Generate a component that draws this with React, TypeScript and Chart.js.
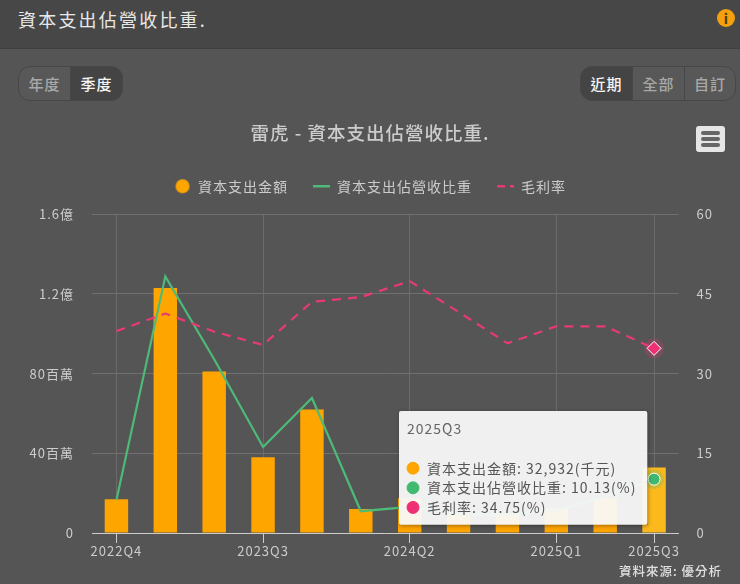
import React, { useEffect, useRef } from "react";
import { Chart, registerables, Tooltip } from "chart.js";

Chart.register(...registerables);

const FONT = '"Noto Sans CJK TC", "Noto Sans", sans-serif';

const categories = ["2022Q4", "2023Q1", "2023Q2", "2023Q3", "2023Q4", "2024Q1", "2024Q2", "2024Q3", "2024Q4", "2025Q1", "2025Q2", "2025Q3"];
const shownTickIndexes = [0, 3, 6, 9, 11];
const capexThousand = [17000, 123000, 81000, 38000, 62000, 12000, 17500, 10000, 10000, 12500, 17500, 32932];
const capexRatio = [6.2, 48.3, 32.7, 16.2, 25.4, 4.1, 4.9, 3.5, 3.5, 4.3, 6.8, 10.13];
const grossMargin = [38, 41.3, 37.9, 35.4, 43.5, 44.4, 47.4, 41.6, 35.7, 38.9, 38.9, 34.75];
const leftTickValues = [0, 40000, 80000, 120000, 160000];
const leftTickLabels = ["0", "40百萬", "80百萬", "1.2億", "1.6億"];
const seriesNames = ["資本支出金額", "資本支出佔營收比重", "毛利率"];
const seriesUnits = ["(千元)", "(%)", "(%)"];

const ORANGE = "#ffa500";
const GREEN = "#4dba78";
const PINK = "#e83a72";

(Tooltip.positioners as any).anchored = function (this: any) {
  const area = this.chart.chartArea;
  return { x: area.right - 277.5, y: area.bottom - 122, xAlign: "left", yAlign: "top" };
};

const spacingPlugin = {
  id: "spacing",
  beforeInit(chart: any) {
    const legend = chart.legend;
    const fit = legend.fit;
    legend.fit = function () {
      fit.call(legend);
      legend.height += 11;
    };
  },
  beforeUpdate(chart: any) {
    chart.ctx.letterSpacing = "1px";
  },
  beforeDraw(chart: any) {
    chart.ctx.letterSpacing = "1px";
  },
};

const haloPlugin = {
  id: "halo",
  beforeDatasetDraw(chart: any, args: any) {
    if (args.index === 0) return;
    const pts = chart.getDatasetMeta(args.index).data;
    const p = pts[pts.length - 1];
    const ctx = chart.ctx;
    ctx.save();
    ctx.beginPath();
    ctx.arc(p.x, p.y, 10, 0, Math.PI * 2);
    ctx.fillStyle = args.index === 1 ? "rgba(77,186,120,0.25)" : "rgba(232,58,114,0.25)";
    ctx.fill();
    ctx.restore();
  },
};

const tooltipShadowPlugin = {
  id: "tooltipShadow",
  beforeTooltipDraw(chart: any, args: any) {
    const t = args.tooltip;
    const ctx = chart.ctx;
    ctx.save();
    ctx.beginPath();
    ctx.rect(0, 0, chart.width, chart.height);
    ctx.rect(t.x, t.y, t.width, t.height);
    ctx.clip("evenodd");
    ctx.shadowColor = "rgba(0,0,0,0.35)";
    ctx.shadowBlur = 4;
    ctx.shadowOffsetX = 1;
    ctx.shadowOffsetY = 1;
    ctx.fillStyle = "#000";
    ctx.fillRect(t.x, t.y, t.width, t.height);
    ctx.restore();
  },
};

function circleIcon(color: string) {
  const c = document.createElement("canvas");
  c.width = 16;
  c.height = 16;
  const x = c.getContext("2d")!;
  x.fillStyle = color;
  x.beginPath();
  x.arc(8, 8, 7, 0, Math.PI * 2);
  x.fill();
  return c;
}

function ChartPanel() {
  const ref = useRef<HTMLCanvasElement>(null);
  useEffect(() => {
    const last = categories.length - 1;
    const pointR = (r: number) => (ctx: any) => (ctx.dataIndex === last ? r : 0);
    const chart = new Chart(ref.current!, {
      type: "bar",
      plugins: [spacingPlugin, haloPlugin, tooltipShadowPlugin],
      data: {
        labels: categories,
        datasets: [
          {
            type: "bar",
            label: seriesNames[0],
            data: capexThousand,
            yAxisID: "y",
            order: 3,
            backgroundColor: capexThousand.map((_, i) => (i === last ? "#fcb91c" : ORANGE)),
            categoryPercentage: 1,
            barPercentage: 0.48,
          },
          {
            type: "line",
            label: seriesNames[1],
            data: capexRatio,
            yAxisID: "y1",
            order: 2,
            borderColor: GREEN,
            backgroundColor: "#3fb86f",
            borderWidth: 2.2,
            tension: 0,
            pointRadius: pointR(6),
            pointBorderColor: "#fff",
            pointBorderWidth: 1,
            pointBackgroundColor: "#3fb86f",
          },
          {
            type: "line",
            label: seriesNames[2],
            data: grossMargin,
            yAxisID: "y1",
            order: 1,
            borderColor: PINK,
            backgroundColor: "#ef2f73",
            borderWidth: 2.2,
            borderDash: [9, 7],
            tension: 0,
            pointStyle: "rectRot",
            pointRadius: pointR(7),
            pointBorderColor: "#fff",
            pointBorderWidth: 1,
            pointBackgroundColor: "#ef2f73",
          },
        ] as any,
      },
      options: {
        responsive: false,
        animation: false,
        events: [],
        layout: { padding: { top: 22, bottom: 0, left: 0, right: 0 } },
        plugins: {
          title: {
            display: true,
            text: "雷虎 - 資本支出佔營收比重.",
            color: "#cccccc",
            font: { family: FONT, size: 18.5, weight: "500" },
            padding: { top: 0, bottom: 10 },
          },
          legend: {
            display: true,
            position: "top",
            labels: {
              color: "#cccccc",
              font: { family: FONT, size: 14 },
              usePointStyle: true,
              pointStyleWidth: 17,
              boxHeight: 14,
              padding: 25,
              generateLabels: () =>
                seriesNames.map((name, i) => ({
                  text: name,
                  datasetIndex: i,
                  fontColor: "#cccccc",
                  fillStyle: [ORANGE, GREEN, PINK][i],
                  strokeStyle: [ORANGE, GREEN, PINK][i],
                  lineWidth: 2.5,
                  lineDash: i === 2 ? [8, 5] : [],
                  pointStyle: i === 0 ? circleIcon(ORANGE) : "line",
                })) as any,
            },
          },
          tooltip: {
            enabled: true,
            animation: false,
            position: "anchored",
            mode: "index",
            backgroundColor: "rgba(250,250,250,0.94)",
            titleColor: "#666666",
            titleFont: { family: FONT, size: 14, weight: "normal" },
            titleMarginBottom: 23,
            bodyColor: "#555555",
            bodyFont: { family: FONT, size: 14, lineHeight: 1.2 },
            bodySpacing: 2.8,
            padding: { left: 8, right: 11, top: 9, bottom: 9 },
            cornerRadius: 2,
            caretSize: 0,
            caretPadding: 0,
            displayColors: true,
            usePointStyle: true,
            boxWidth: 12,
            boxHeight: 12,
            boxPadding: 6,
            callbacks: {
              title: () => categories[last],
              label: (item: any) =>
                `${seriesNames[item.datasetIndex]}: ${Number(item.raw).toLocaleString("en-US")}${seriesUnits[item.datasetIndex]}`,
              labelPointStyle: () => ({ pointStyle: "circle", rotation: 0 }),
              labelColor: (item: any) => {
                const c = [ORANGE, "#42b970", "#ef2f73"][item.datasetIndex];
                return { backgroundColor: c, borderColor: c, borderWidth: 0 };
              },
            },
          },
        },
        scales: {
          x: {
            offset: true,
            border: { color: "#cccccc", width: 1 },
            grid: {
              offset: false,
              lineWidth: 1,
              tickLength: 10,
              color: (ctx: any) => (shownTickIndexes.includes(ctx.index) ? "#6b6b6b" : "rgba(0,0,0,0)"),
              tickColor: (ctx: any) => (shownTickIndexes.includes(ctx.index) ? "#cccccc" : "rgba(0,0,0,0)"),
            },
            ticks: {
              autoSkip: false,
              maxRotation: 0,
              color: "#cccccc",
              padding: 0,
              font: { family: FONT, size: 13 },
              callback: (_v: any, i: number) => (shownTickIndexes.includes(i) ? categories[i] : ""),
            },
            afterFit: (s: any) => {
              s.height = 51;
            },
          },
          y: {
            position: "left",
            min: 0,
            max: 160000,
            afterBuildTicks: (s: any) => {
              s.ticks = leftTickValues.map((value) => ({ value }));
            },
            border: { display: false },
            grid: { color: "#707070", drawTicks: false },
            ticks: {
              color: "#cccccc",
              padding: 18,
              font: { family: FONT, size: 13 },
              callback: (v: any) => leftTickLabels[leftTickValues.indexOf(Number(v))],
            },
            afterFit: (s: any) => {
              s.width = 92;
            },
          },
          y1: {
            position: "right",
            min: 0,
            max: 60,
            border: { display: false },
            grid: { drawOnChartArea: false, drawTicks: false },
            ticks: {
              stepSize: 15,
              color: "#cccccc",
              padding: 18,
              font: { family: FONT, size: 13 },
            },
            afterFit: (s: any) => {
              s.width = 61.5;
            },
          },
        },
      } as any,
    });
    chart.tooltip!.setActiveElements(
      [0, 1, 2].map((datasetIndex) => ({ datasetIndex, index: last })),
      { x: 0, y: 0 }
    );
    chart.draw();
    return () => chart.destroy();
  }, []);
  return <canvas ref={ref} width={740} height={484} style={{ position: "absolute", left: 0, top: 100, display: "block" }} />;
}

const btnBase: React.CSSProperties = {
  position: "absolute",
  top: 66,
  height: 35,
  boxSizing: "border-box",
  border: "1px solid #474747",
  display: "flex",
  alignItems: "center",
  justifyContent: "center",
  fontSize: 15,
  fontWeight: 500,
  letterSpacing: 1,
};

function Btn({ left, width, text, active, radius }: { left: number; width: number; text: string; active?: boolean; radius: string }) {
  return (
    <div
      style={{
        ...btnBase,
        left,
        width,
        borderRadius: radius,
        background: active ? "#444444" : "#585858",
        color: active ? "#f5f5f5" : "#a8a8a8",
      }}
    >
      {text}
    </div>
  );
}

export default function App() {
  return (
    <div style={{ position: "absolute", inset: 0, width: 740, height: 584, overflow: "hidden", background: "#555555", fontFamily: FONT }}>
      <style>{`html,body{margin:0;padding:0;background:#555555;overflow:hidden}`}</style>
      <div style={{ position: "absolute", left: 0, top: 0, width: 740, height: 48, background: "#474747", borderBottom: "1px solid #3f3f3f" }} />
      <div style={{ position: "absolute", left: 18, top: 5, fontSize: 18, color: "#e8e8e8", letterSpacing: 2.2, lineHeight: "28px", whiteSpace: "nowrap" }}>
        資本支出佔營收比重.
      </div>
      <div
        style={{
          position: "absolute",
          left: 717,
          top: 9,
          width: 18,
          height: 18,
          borderRadius: 9,
          background: "#f5a00f",
          color: "#4a3a10",
          fontSize: 14,
          fontWeight: 700,
          textAlign: "center",
          lineHeight: "18px",
        }}
      >
        i
      </div>
      <Btn left={18} width={53} text="年度" radius="12px 0 0 12px" />
      <Btn left={70} width={53} text="季度" active radius="0 12px 12px 0" />
      <Btn left={580} width={53} text="近期" active radius="12px 0 0 12px" />
      <Btn left={632} width={53} text="全部" radius="0" />
      <Btn left={684} width={52} text="自訂" radius="0 12px 12px 0" />
      <ChartPanel />
      <div style={{ position: "absolute", left: 696, top: 126, width: 29, height: 26, borderRadius: 3, background: "#e6e6e6" }}>
        {[6, 12, 18].map((t) => (
          <div key={t} style={{ position: "absolute", left: 5, top: t - 1, width: 19, height: 3.5, borderRadius: 2, background: "#666666" }} />
        ))}
      </div>
      <div style={{ position: "absolute", right: 18, top: 562, fontSize: 12.5, color: "#e0e0e0", letterSpacing: 1, fontWeight: 500, lineHeight: "18px", whiteSpace: "nowrap" }}>
        資料來源: 優分析
      </div>
    </div>
  );
}
